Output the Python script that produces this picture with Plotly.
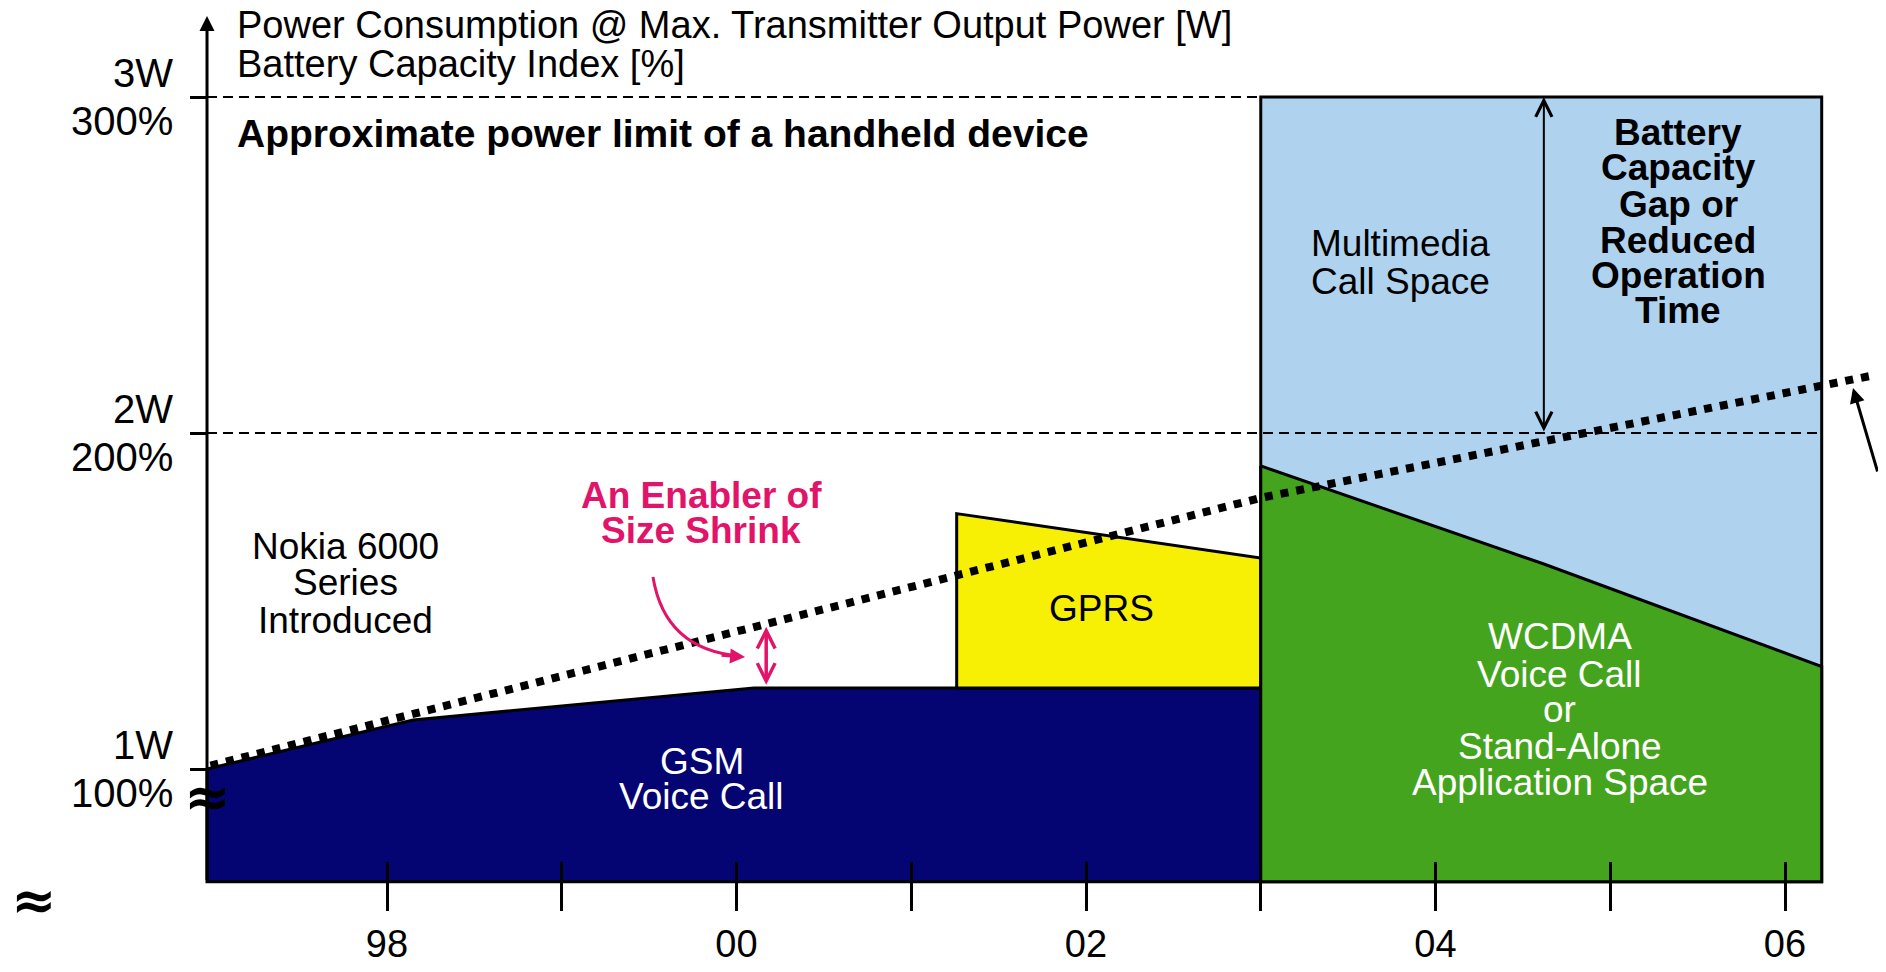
import plotly.graph_objects as go

# ---------------- data ----------------
tick_years = [1998, 1999, 2000, 2001, 2002, 2003, 2004, 2005, 2006]
tick_year_labels = ["98", "", "00", "", "02", "", "04", "", "06"]

axis_year = 1996.97          # where the vertical axis stands
end_year = 2006.21           # right edge of the filled areas
base_level = 66.46           # floor of the (broken) axis, in %

gsm_x = [1996.97, 1998.15, 2000.10, 2003.00]
gsm_y = [100.0, 114.6, 124.1, 124.1]

gprs_x = [2001.26, 2003.00]
gprs_top = [176.0, 162.8]
gprs_bottom = 124.1

wcdma_x = [2003.00, 2004.62, 2006.21]
wcdma_y = [190.2, 161.0, 130.5]

multimedia_x = [2003.00, 2006.21]
multimedia_top = 300.0

battery_x = [1996.99, 2000.17, 2003.00, 2006.49]
battery_y = [101.0, 142.9, 180.7, 217.0]

levels = [100, 200, 300]
level_watts = ["1W", "2W", "3W"]
level_pct = ["100%", "200%", "300%"]

gap_year = 2004.62           # "battery capacity gap" arrow
shrink_year = 2000.17        # "enabler of size shrink" arrow

# ---------------- style ----------------
NAVY = "#040472"
GREEN = "#45A41D"
YELLOW = "#F8F004"
LIGHTBLUE = "#AFD3EF"
PINK = "#E2146A"
FONT = "Liberation Sans"

fig = go.Figure()

def poly(x, y, fill):
    fig.add_trace(go.Scatter(x=x, y=y, mode="lines", fill="toself", fillcolor=fill,
                             line=dict(color="black", width=3), hoverinfo="skip",
                             showlegend=False))

# multimedia call space (light blue box)
poly([multimedia_x[0], multimedia_x[0], multimedia_x[1], multimedia_x[1], multimedia_x[0]],
     [base_level, multimedia_top, multimedia_top, base_level, base_level], LIGHTBLUE)
# GSM
poly(gsm_x + [gsm_x[-1], gsm_x[0], gsm_x[0]],
     gsm_y + [base_level, base_level, gsm_y[0]], NAVY)
# GPRS
poly([gprs_x[0], gprs_x[0], gprs_x[1], gprs_x[1], gprs_x[0]],
     [gprs_bottom, gprs_top[0], gprs_top[1], gprs_bottom, gprs_bottom], YELLOW)
# WCDMA
poly(wcdma_x + [wcdma_x[-1], wcdma_x[0], wcdma_x[0]],
     wcdma_y + [base_level, base_level, wcdma_y[0]], GREEN)

# dashed reference levels
fig.add_trace(go.Scatter(x=[axis_year, multimedia_x[0]], y=[300, 300], mode="lines",
                         line=dict(color="black", width=2, dash="10px,6px"),
                         hoverinfo="skip", showlegend=False))
fig.add_trace(go.Scatter(x=[axis_year, end_year], y=[200, 200], mode="lines",
                         line=dict(color="black", width=2, dash="10px,6px"),
                         hoverinfo="skip", showlegend=False))

# battery capacity trend (dotted)
fig.add_trace(go.Scatter(x=battery_x, y=battery_y, mode="lines",
                         line=dict(color="black", width=8, dash="8px,8px"),
                         hoverinfo="skip", showlegend=False))

# dummy trace for the inner-tick overlay axis
fig.add_trace(go.Scatter(x=tick_years, y=[base_level] * len(tick_years), xaxis="x2",
                         mode="markers", marker=dict(opacity=0), hoverinfo="skip",
                         showlegend=False))

ann = []

def txt(x, y, s, size=37, bold=False, color="black", xanchor="center", family=FONT):
    ann.append(dict(x=x, y=y, xref="x", yref="y", text=s, showarrow=False,
                    xanchor=xanchor, yanchor="middle",
                    font=dict(family=family, size=size, color=color,
                              weight="bold" if bold else "normal")))

# axis titles
txt(1997.13, 321.4, "Power Consumption @ Max. Transmitter Output Power [W]", 38, xanchor="left")
txt(1997.13, 309.9, "Battery Capacity Index [%]", 38, xanchor="left")
txt(1997.13, 289.0, "Approximate power limit of a handheld device", 39, True, xanchor="left")

# level labels
for lv, w, p in zip(levels, level_watts, level_pct):
    txt(1996.787, lv + 7.0, w, 40, xanchor="right")
    txt(1996.787, lv - 7.0, p, 40, xanchor="right")

# axis-break marks
txt(axis_year, 91.7, "≈", 56, True, family="DejaVu Sans")
txt(1995.975, 61.0, "≈", 54, True, family="DejaVu Sans")

# region labels
for yv, s in zip([166.1, 155.4, 144.3], ["Nokia 6000", "Series", "Introduced"]):
    txt(1997.76, yv, s)
for yv, s in zip([181.5, 171.1], ["An Enabler of", "Size Shrink"]):
    txt(1999.797, yv, s, 37, True, PINK)
for yv, s in zip([102.1, 91.7], ["GSM", "Voice Call"]):
    txt(1999.80, yv, s, 37, color="white")
txt(2002.09, 147.9, "GPRS")
for yv, s in zip([256.5, 245.2], ["Multimedia", "Call Space"]):
    txt(2003.80, yv, s)
for yv, s in zip([289.3, 278.9, 267.9, 257.4, 247.0, 236.6],
                 ["Battery", "Capacity", "Gap or", "Reduced", "Operation", "Time"]):
    txt(2005.39, yv, s, 37, True)
for yv, s in zip([139.3, 128.0, 117.6, 106.8, 96.1],
                 ["WCDMA", "Voice Call", "or", "Stand-Alone", "Application Space"]):
    txt(2004.71, yv, s, 37, color="white")

# vertical axis with arrow
ann.append(dict(x=axis_year, y=324.1, ax=axis_year, ay=base_level, xref="x", yref="y",
                axref="x", ayref="y", text="", showarrow=True, arrowhead=2,
                arrowsize=1.0, arrowwidth=3, arrowcolor="black", standoff=0))
# battery capacity gap double arrow
ann.append(dict(x=gap_year, y=300, ax=gap_year, ay=200, xref="x", yref="y",
                axref="x", ayref="y", text="", showarrow=True, arrowside="end+start",
                arrowhead=5, startarrowhead=5, arrowsize=1.6, startarrowsize=1.6,
                arrowwidth=2, arrowcolor="black", standoff=0, startstandoff=0))
# size-shrink double arrow
ann.append(dict(x=shrink_year, y=142.3, ax=shrink_year, ay=124.6, xref="x", yref="y",
                axref="x", ayref="y", text="", showarrow=True, arrowside="end+start",
                arrowhead=5, startarrowhead=5, arrowsize=1.0, startarrowsize=1.0,
                arrowwidth=3.5, arrowcolor=PINK, standoff=0, startstandoff=0))
# curved pointer head
ann.append(dict(x=2000.049, y=133.3, ax=-25, ay=-2, xref="x", yref="y", text="",
                showarrow=True, arrowhead=2, arrowsize=1.0, arrowwidth=3,
                arrowcolor=PINK, standoff=0))
# pointer to end of trend line
ann.append(dict(x=2006.389, y=213.4, ax=45, ay=85, xref="x", yref="y", text="",
                showarrow=True, arrowhead=2, arrowsize=1.0, arrowwidth=3,
                arrowcolor="black", standoff=0))

shapes = [dict(type="path", xref="x", yref="y",
               path="M 1999.522,157.14 Q 1999.591,135.42 2000.020,133.63",
               line=dict(color=PINK, width=3))]

# the page body adds an 8px margin, so the figure is 16px smaller than the window
fig.update_layout(
    width=1870, height=956,
    margin=dict(l=0, r=0, t=0, b=0, autoexpand=False),
    paper_bgcolor="white", plot_bgcolor="white",
    showlegend=False,
    annotations=ann, shapes=shapes,
    xaxis=dict(range=[1995.8312, 2006.5322], domain=[0, 1], anchor="free",
               position=0.0861, showgrid=False, zeroline=False, showline=False,
               automargin=False,
               tickmode="array", tickvals=tick_years, ticktext=tick_year_labels,
               ticks="outside", ticklen=28, tickwidth=2.5, tickcolor="black",
               ticklabelstandoff=1,
               tickfont=dict(family=FONT, size=38, color="black")),
    xaxis2=dict(range=[1995.8312, 2006.5322], overlaying="x", anchor="free",
                position=0.0861, side="bottom", showgrid=False, zeroline=False,
                showline=False, automargin=False, tickmode="array", tickvals=tick_years,
                ticks="inside", ticklen=20, tickwidth=2.5, tickcolor="black",
                showticklabels=False),
    yaxis=dict(range=[41.964, 326.488], domain=[0, 1], anchor="free",
               position=0.10642, showgrid=False, zeroline=False, showline=False,
               automargin=False,
               tickmode="array", tickvals=levels, ticks="outside", ticklen=17,
               tickwidth=2.5, tickcolor="black", showticklabels=False),
)

fig.write_html("out.html")
